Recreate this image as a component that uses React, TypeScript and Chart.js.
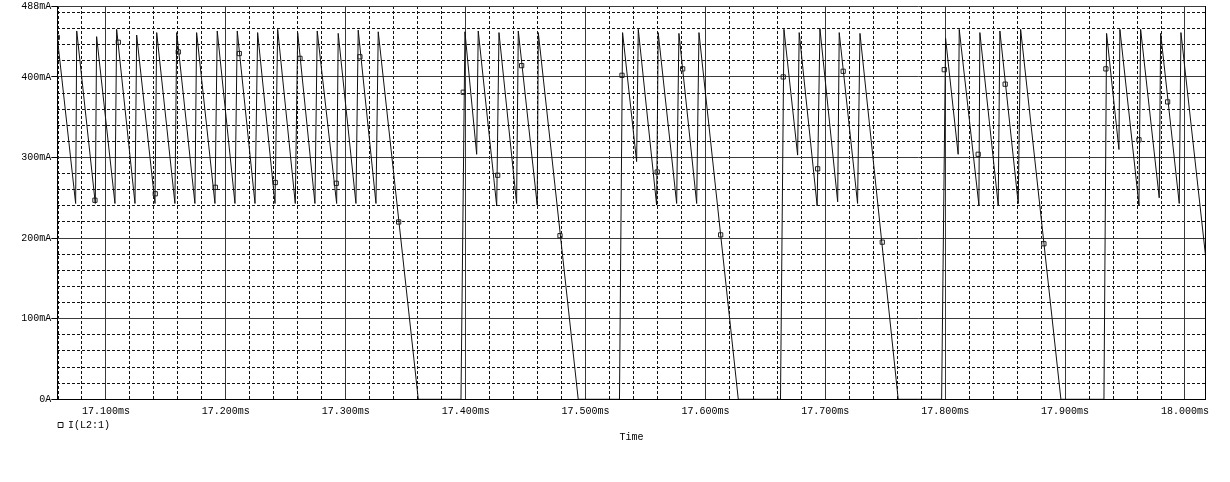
import React, { useEffect, useRef } from "react";
import { Chart, registerables } from "chart.js";

Chart.register(...registerables);

// ---- Data (time in ms, current in mA) ----
const burst1Time = [
  17.0594, 17.0747, 17.0756, 17.0911, 17.0922, 17.1075, 17.1089, 17.1242, 17.1256, 17.1409,
  17.1423, 17.1575, 17.159, 17.1742, 17.1756, 17.1909, 17.1928, 17.2076, 17.2095, 17.2243,
  17.2265, 17.241, 17.2432, 17.2579, 17.2599, 17.2743, 17.2762, 17.2924, 17.2937, 17.3085,
  17.3104, 17.3252, 17.3271, 17.3605,
];
const burst1Current = [
  449, 243, 457, 243, 450, 243, 459, 243, 452, 243,
  455, 243, 455, 243, 455, 243, 457, 243, 457, 243,
  455, 243, 459, 243, 455, 243, 457, 243, 454, 243,
  458, 243, 456, 0,
];
const burst2Time = [17.3961, 17.3994, 17.4092, 17.4105, 17.4259, 17.4278, 17.4425, 17.4439, 17.4597, 17.4606, 17.4939];
const burst2Current = [0, 456, 304, 457, 240, 455, 243, 457, 241, 455, 0];
const burst3Time = [17.5283, 17.5309, 17.5426, 17.544, 17.5593, 17.5606, 17.576, 17.5779, 17.5927, 17.5946, 17.6274];
const burst3Current = [0, 455, 295, 459, 241, 455, 243, 454, 243, 455, 0];
const burst4Time = [17.6626, 17.6655, 17.6769, 17.6782, 17.6932, 17.6955, 17.7103, 17.7116, 17.7269, 17.7289, 17.7608];
const burst4Current = [0, 459, 303, 455, 240, 460, 245, 455, 243, 454, 0];
const burst5Time = [17.797, 17.8003, 17.8108, 17.8117, 17.8281, 17.8289, 17.8442, 17.8456, 17.8609, 17.8629, 17.8965];
const burst5Current = [0, 448, 304, 459, 241, 455, 241, 457, 243, 459, 0];
const burst6Time = [17.9324, 17.9346, 17.9449, 17.9457, 17.9616, 17.963, 17.9785, 17.9797, 17.9952, 17.9966, 18.017];
const burst6Current = [0, 454, 310, 459, 241, 459, 250, 454, 243, 455, 180];

const markerTime = [
  17.0594, 17.0908, 17.1103, 17.1411, 17.1603, 17.1912, 17.2112, 17.2412, 17.2618, 17.2921, 17.3118, 17.3441,
  17.398, 17.4267, 17.4467, 17.4787, 17.5304, 17.5598, 17.581, 17.6127, 17.6649, 17.6936, 17.7149, 17.7475,
  17.7992, 17.8275, 17.85, 17.8823, 17.934, 17.9616, 17.9855,
];
const markerCurrent = [
  449, 247, 443, 255, 431, 263, 429, 269, 423, 268, 425, 220,
  381, 278, 414, 203, 402, 282, 410, 204, 400, 286, 407, 195,
  409, 304, 391, 193, 410, 322, 369,
];

const seriesLabel = "I(L2:1)";
const xAxisTitle = "Time";
const xMajorTicks = [17.1, 17.2, 17.3, 17.4, 17.5, 17.6, 17.7, 17.8, 17.9, 18.0];
const yMajorTicks = [0, 100, 200, 300, 400, 488];
const xMin = 17.0594;
const xMax = 18.0171;
const yMin = 0;
const yMax = 488;
const xMinorStep = 0.02;
const yMinorStep = 20;

const traceTime = [...burst1Time, ...burst2Time, ...burst3Time, ...burst4Time, ...burst5Time, ...burst6Time];
const traceCurrent = [
  ...burst1Current, ...burst2Current, ...burst3Current, ...burst4Current, ...burst5Current, ...burst6Current,
];

const xMinorTicks: number[] = [];
for (let k = Math.ceil(xMin / xMinorStep - 1e-9); k * xMinorStep <= xMax + 1e-9; k++) {
  if (k % 5 !== 0) xMinorTicks.push(+(k * xMinorStep).toFixed(4));
}
const yMinorTicks: number[] = [];
for (let k = 1; k * yMinorStep <= yMax; k++) {
  if (k % 5 !== 0) yMinorTicks.push(k * yMinorStep);
}

export default function App() {
  const ref = useRef<HTMLCanvasElement>(null);

  useEffect(() => {
    document.body.style.margin = "0";
    document.body.style.overflow = "hidden";
    const font = { family: "'Liberation Mono', 'Courier New', monospace", size: 10, weight: "normal" as const, lineHeight: 1.2 };
    const majorColor = "#3a3a3a";
    const minorColor = "#111";

    const chart = new Chart(ref.current as HTMLCanvasElement, {
      type: "line",
      data: {
        datasets: [
          {
            label: seriesLabel,
            data: traceTime.map((t, i) => ({ x: t, y: traceCurrent[i] })),
            borderColor: "#111",
            backgroundColor: "rgba(0,0,0,0)",
            borderWidth: 1,
            pointRadius: 0,
            pointStyle: "rect",
            tension: 0,
            fill: false,
          },
          {
            label: "markers",
            data: markerTime.map((t, i) => ({ x: t, y: markerCurrent[i] })),
            showLine: false,
            pointStyle: "rect",
            pointRadius: 3,
            pointBorderWidth: 1,
            pointBorderColor: "#222",
            pointBackgroundColor: "rgba(255,255,255,0)",
          },
        ],
      },
      options: {
        animation: false,
        responsive: false,
        devicePixelRatio: 1,
        layout: { padding: { left: 0, right: 24.5, top: 6, bottom: 38.7 } },
        plugins: {
          tooltip: { enabled: false },
          legend: {
            display: true,
            position: "bottom",
            align: "start",
            fullSize: false,
            maxHeight: 12,
            labels: {
              usePointStyle: true,
              boxWidth: 5,
              boxHeight: 5,
              padding: 0.7,
              color: "#000",
              font,
              filter: (item: any) => item.datasetIndex === 0,
            },
          },
          title: {
            display: true,
            text: xAxisTitle,
            position: "bottom",
            fullSize: false,
            padding: { top: 0, bottom: 0 },
            color: "#000",
            font,
          },
        },
        scales: {
          xMinor: {
            type: "linear",
            position: "bottom",
            min: xMin,
            max: xMax,
            ticks: { display: false },
            grid: { color: minorColor, lineWidth: 1, drawTicks: false },
            border: { display: false, dash: [3, 2] },
            afterBuildTicks: (s: any) => {
              s.ticks = xMinorTicks.map((v) => ({ value: v }));
            },
            afterFit: (s: any) => {
              s.height = 0;
            },
          },
          yMinor: {
            type: "linear",
            position: "left",
            min: yMin,
            max: yMax,
            ticks: { display: false },
            grid: { color: minorColor, lineWidth: 1, drawTicks: false },
            border: { display: false, dash: [3, 2] },
            afterBuildTicks: (s: any) => {
              s.ticks = yMinorTicks.map((v) => ({ value: v }));
            },
            afterFit: (s: any) => {
              s.width = 0;
            },
          },
          x: {
            type: "linear",
            position: "bottom",
            min: xMin,
            max: xMax,
            grid: { color: majorColor, lineWidth: 1, drawTicks: false },
            border: { display: true, color: "#000" },
            ticks: {
              autoSkip: false,
              maxRotation: 0,
              padding: 6,
              color: "#000",
              font,
              callback: (v: any) => Number(v).toFixed(3) + "ms",
            },
            afterBuildTicks: (s: any) => {
              s.ticks = xMajorTicks.map((v) => ({ value: v }));
            },
            afterFit: (s: any) => {
              s.height = 20;
            },
          },
          y: {
            type: "linear",
            position: "left",
            min: yMin,
            max: yMax,
            grid: { color: majorColor, lineWidth: 1, drawTicks: true, tickLength: 6, tickColor: "#000" },
            border: { display: true, color: "#000" },
            ticks: {
              autoSkip: false,
              padding: 0,
              color: "#000",
              font,
              callback: (v: any) => (Number(v) === 0 ? "0A" : Number(v) + "mA"),
            },
            afterBuildTicks: (s: any) => {
              s.ticks = yMajorTicks.map((v) => ({ value: v }));
            },
            afterFit: (s: any) => {
              s.width = 57.3;
            },
          },
          rightEdge: {
            type: "linear",
            position: "right",
            min: yMin,
            max: yMax,
            ticks: { display: false },
            grid: { display: false, drawTicks: false },
            border: { display: true, color: "#000" },
            afterFit: (s: any) => {
              s.width = 0;
            },
          },
        },
      } as any,
    });

    return () => chart.destroy();
  }, []);

  return (
    <div style={{ width: 1230, height: 482 }}>
      <canvas ref={ref} width={1230} height={482} style={{ display: "block" }} />
    </div>
  );
}
